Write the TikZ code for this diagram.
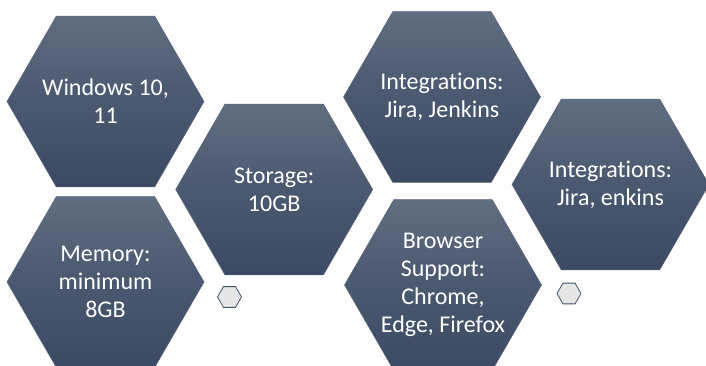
\documentclass[tikz,border=0pt]{standalone}
\usepackage{fontspec}
\setmainfont[Ligatures=NoCommon]{Carlito}
\usetikzlibrary{shapes.geometric}
\definecolor{hextop}{HTML}{616D80}
\definecolor{hexmid}{HTML}{4A5870}
\definecolor{hexbot}{HTML}{3B4962}
\definecolor{hexline}{HTML}{56627A}
\definecolor{smallfill}{HTML}{E7E6E6}
\definecolor{smallline}{HTML}{44546A}
\tikzset{
  bighex/.style={regular polygon, regular polygon sides=6, minimum size=197pt,
    inner sep=0pt, outer sep=0pt, top color=hextop, bottom color=hexbot, middle color=hexmid,
    draw=hexline, line width=0.5pt},
  hextext/.style={text=white, align=center, inner sep=0pt,
    font=\fontsize{24}{28}\selectfont},
  smallhex/.style={regular polygon, regular polygon sides=6, minimum size=24pt,
    inner sep=0pt, fill=smallfill, draw=smallline, line width=0.8pt}
}
\begin{document}
\begin{tikzpicture}[x=1pt,y=-1pt]
\useasboundingbox (0,0) rectangle (706,366);
\begin{scope}
\clip (0,0) rectangle (706,366);
\node[bighex] (win) at (105.5,101.5) {};
\node[bighex] (mem) at (105.5,282) {};
\node[bighex] (sto) at (274.2,189.5) {};
\node[bighex] (int1) at (442,97) {};
\node[bighex] (bro) at (443,285) {};
\node[bighex] (int2) at (610.5,184.5) {};
\node[hextext] (twin) at (win) {Windows 10,\\11};
\node[hextext] (tmem) at (mem) {Memory:\\minimum\\8GB};
\node[hextext] (tsto) at (sto) {Storage:\\10GB};
\node[hextext] (tint1) at (int1) {Integrations:\\Jira, Jenkins};
\node[hextext] (tbro) at (bro) {Browser\\Support:\\Chrome,\\Edge, Firefox};
\node[hextext] (tint2) at (int2) {Integrations:\\Jira, enkins};
\node[smallhex] (s1) at (229.5,297) {};
\node[smallhex] (s2) at (569,293.5) {};
\end{scope}
\end{tikzpicture}
\end{document}
